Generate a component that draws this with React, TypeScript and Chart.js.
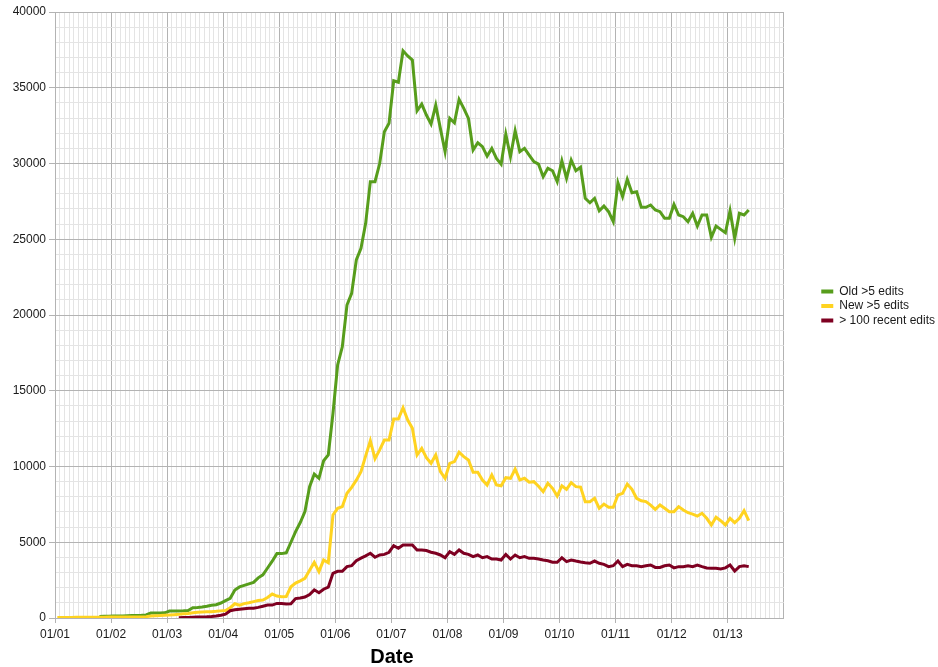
import React, { useEffect, useRef } from "react";
import { Chart, registerables } from "chart.js";

Chart.register(...registerables);

// Monthly series, first value = January 2001 (plotted mid-month)
const yearTickLabels = ["01/01", "01/02", "01/03", "01/04", "01/05", "01/06", "01/07", "01/08", "01/09", "01/10", "01/11", "01/12", "01/13"];
const axisMonths = 156; // Jan 2001 .. Jan 2014

const oldEdits: (number | null)[] = [
  null, null, null, null, null, null, null, null, null,
  100, 110, 120, 130, 130, 140, 150, 160, 170, 180, 200,
  330, 330, 330, 340, 460, 460, 470, 480, 500, 680,
  700, 730, 780, 840, 880, 990, 1150, 1300, 1850, 2050,
  2150, 2250, 2350, 2650, 2850, 3300, 3750, 4250, 4250, 4300,
  5000, 5700, 6300, 7020, 8670, 9500, 9220, 10380, 10760, 13500,
  16700, 17900, 20660, 21430, 23630, 24400, 26050, 28800, 28800, 30000,
  32100, 32650, 35460, 35360, 37440, 37100, 36830, 33480, 33920, 33200,
  32600, 33850, 32300, 30780, 32980, 32690, 34230, 33640, 32980, 30890,
  31370, 31110, 30490, 31000, 30340, 29960, 31940, 30450, 32160, 30780,
  31000, 30560, 30120, 29960, 29130, 29680, 29520, 28800, 30180, 29020,
  30230, 29520, 29750, 27700, 27410, 27700, 26880, 27190, 26820, 26160,
  28730, 27810, 28950, 28070, 28140, 27110, 27110, 27260, 26930, 26820,
  26380, 26380, 27300, 26600, 26490, 26160, 26710, 25870, 26600, 26600,
  25130, 25870, 25650, 25430, 26880, 25060, 26710, 26600, 26930,
];

const newEdits: (number | null)[] = [
  40, 40, 40, 40, 50, 50, 50, 50, 50, 50,
  50, 60, 60, 60, 60, 60, 70, 70, 70, 90,
  130, 150, 160, 180, 200, 220, 240, 280, 300, 340,
  380, 400, 410, 420, 440, 470, 500, 680, 940, 850,
  950, 1010, 1080, 1150, 1190, 1350, 1580, 1450, 1410, 1420,
  2060, 2300, 2450, 2620, 3150, 3670, 3060, 3830, 3650, 6800,
  7240, 7350, 8230, 8620, 9100, 9660, 10700, 11700, 10520, 11100,
  11750, 11750, 13130, 13130, 13880, 13070, 12520, 10760, 11200, 10580,
  10210, 10760, 9660, 9220, 10210, 10320, 10940, 10650, 10430, 9620,
  9620, 9110, 8780, 9440, 8780, 8730, 9260, 9220, 9830, 9110,
  9220, 8960, 9000, 8700, 8340, 8890, 8560, 8050, 8730, 8490,
  8930, 8670, 8640, 7680, 7680, 7900, 7240, 7520, 7310, 7310,
  8120, 8230, 8840, 8490, 7900, 7740, 7680, 7450, 7170, 7460,
  7240, 7020, 7020, 7350, 7130, 6950, 6860, 6730, 6910, 6580,
  6140, 6650, 6420, 6140, 6580, 6290, 6580, 7080, 6420,
];

const recentEdits: (number | null)[] = [
  null, null, null, null, null, null, null, null, null, null,
  null, null, null, null, null, null, null, null, null, null,
  null, null, null, null, null, null,
  20, 30, 40, 50, 60, 70, 80, 100, 130, 180,
  250, 480, 540, 580, 610, 640, 650, 700, 780, 850,
  850, 960, 960, 930, 940, 1280, 1320, 1380, 1550, 1860,
  1670, 1900, 2030, 2950, 3080, 3080, 3390, 3450, 3780, 3950,
  4100, 4270, 4010, 4160, 4200, 4340, 4770, 4600, 4820, 4820,
  4820, 4490, 4490, 4450, 4340, 4270, 4160, 3980, 4380, 4200,
  4490, 4270, 4200, 4050, 4160, 3980, 4050, 3890, 3900, 3830,
  4200, 3890, 4160, 3980, 4050, 3940, 3940, 3890, 3830, 3780,
  3680, 3680, 3980, 3720, 3830, 3760, 3700, 3650, 3610, 3760,
  3610, 3540, 3390, 3450, 3760, 3390, 3540, 3450, 3450, 3390,
  3450, 3500, 3340, 3340, 3450, 3500, 3310, 3390, 3390, 3450,
  3390, 3500, 3390, 3300, 3280, 3280, 3240, 3310, 3500, 3100,
  3390, 3450, 3390,
];

const seriesNames = ["Old >5 edits", "New >5 edits", "> 100 recent edits"];
const seriesColors = ["#579D1C", "#FFD320", "#7E0021"];

const MAJOR_GRID = "#b3b3b3";
const MINOR_GRID = "#e4e4e4";
const TEXT = "#1a1a1a";

function toPoints(values: (number | null)[]) {
  const pts: { x: number; y: number }[] = [];
  values.forEach((v, i) => {
    if (v !== null) pts.push({ x: i + 0.5, y: v });
  });
  return pts;
}

export default function App() {
  const canvasRef = useRef<HTMLCanvasElement | null>(null);

  useEffect(() => {
    if (!canvasRef.current) return;
    Chart.defaults.font.family = "'Liberation Sans', Arial, sans-serif";
    const allSeries = [oldEdits, newEdits, recentEdits];

    // Centre the "Date" title under the area left of the legend, and lift the legend a little.
    const layoutTweaks = {
      id: "layoutTweaks",
      afterLayout(chart: any) {
        const t = chart.titleBlock;
        if (t) {
          t.left = 0;
          t.right = chart.chartArea.right;
          t.width = t.right - t.left;
        }
        const l = chart.legend;
        if (l) {
          l.bottom = chart.chartArea.bottom - 18;
          l.height = l.bottom - l.top;
        }
      },
    };

    const isMajorX = (c: any) => c.tick && c.tick.value % 12 === 0;
    const hasLabelX = (c: any) => isMajorX(c) && c.tick.value / 12 < yearTickLabels.length;

    const chart = new Chart(canvasRef.current, {
      type: "line",
      data: {
        datasets: allSeries.map((vals, i) => ({
          label: seriesNames[i],
          data: toPoints(vals),
          borderColor: seriesColors[i],
          backgroundColor: seriesColors[i],
          borderWidth: 3,
          pointRadius: 0,
          tension: 0,
          order: 3 - i,
        })),
      },
      options: {
        animation: false,
        responsive: false,
        layout: { padding: { top: 12, left: 0, right: -7, bottom: 0 } },
        plugins: {
          tooltip: { enabled: false },
          legend: {
            position: "right",
            align: "center",
            labels: {
              boxWidth: 12,
              boxHeight: 4,
              padding: 2.5,
              color: TEXT,
              font: { size: 12 },
              sort: (a: any, b: any) => a.datasetIndex - b.datasetIndex,
              generateLabels: (chart: any) =>
                Chart.defaults.plugins.legend.labels
                  .generateLabels(chart)
                  .map((l: any) => ({ ...l, lineWidth: 0 })),
            },
          },
          title: {
            display: true,
            position: "bottom",
            text: "Date",
            color: "#000",
            font: { size: 20, weight: "bold", lineHeight: 1 },
            padding: { top: 0, bottom: 0 },
          },
        },
        scales: {
          x: {
            type: "linear",
            min: 0,
            max: axisMonths,
            afterFit: (s: any) => {
              s.height = 29;
            },
            ticks: {
              stepSize: 1,
              autoSkip: false,
              maxRotation: 0,
              minRotation: 0,
              padding: 4,
              color: TEXT,
              font: { size: 12 },
              callback: (v: any) => {
                const n = Number(v);
                if (n % 12 === 0 && n / 12 < yearTickLabels.length) return yearTickLabels[n / 12];
                return "";
              },
            },
            grid: {
              color: (c: any) => (isMajorX(c) ? MAJOR_GRID : MINOR_GRID),
              tickColor: (c: any) => (hasLabelX(c) ? MAJOR_GRID : "rgba(0,0,0,0)"),
              tickLength: 5,
              lineWidth: 1,
            },
            border: { color: MAJOR_GRID },
          },
          y: {
            type: "linear",
            min: 0,
            max: 40000,
            afterFit: (s: any) => {
              s.width = 55;
            },
            ticks: {
              stepSize: 1000,
              autoSkip: false,
              padding: 3,
              color: TEXT,
              font: { size: 12 },
              callback: (v: any) => (Number(v) % 5000 === 0 ? String(v) : ""),
            },
            grid: {
              color: (c: any) => (c.tick && c.tick.value % 5000 === 0 ? MAJOR_GRID : MINOR_GRID),
              tickColor: (c: any) => (c.tick && c.tick.value % 5000 === 0 ? MAJOR_GRID : "rgba(0,0,0,0)"),
              tickLength: 6,
            },
            border: { color: MAJOR_GRID },
          },
          gap: {
            type: "linear",
            position: "right",
            display: true,
            afterFit: (s: any) => {
              s.width = 35;
            },
            ticks: { display: false },
            grid: { display: false, drawTicks: false },
            border: { display: false },
          },
        },
      },
      plugins: [layoutTweaks],
    } as any);

    return () => chart.destroy();
  }, []);

  return (
    <div style={{ position: "absolute", left: 0, top: 0, width: 938, height: 667, background: "#fff" }}>
      <canvas ref={canvasRef} width={938} height={667} style={{ display: "block" }} />
    </div>
  );
}
